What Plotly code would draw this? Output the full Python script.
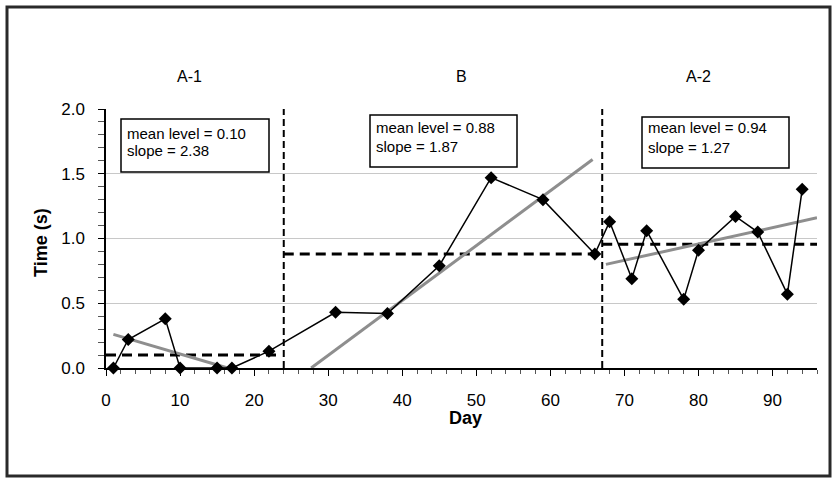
import plotly.graph_objects as go

# ---- data ----
days = [1, 3, 8, 10, 15, 17, 22, 31, 38, 45, 52, 59, 66, 68, 71, 73, 78, 80, 85, 88, 92, 94]
times = [0.0, 0.22, 0.38, 0.0, 0.0, 0.0, 0.13, 0.43, 0.42, 0.79, 1.47, 1.30, 0.88,
         1.13, 0.69, 1.06, 0.53, 0.91, 1.17, 1.05, 0.57, 1.38]

phase_names = ["A-1", "B", "A-2"]
phase_label_day = [11.3, 48.0, 80.0]
phase_bounds = [24, 67]
mean_levels = [0.10, 0.88, 0.955]
mean_start = [0, 24, 67]
mean_end = [23, 66.7, 96]
mean_text = ["mean level = 0.10", "mean level = 0.88", "mean level = 0.94"]
slope_text = ["slope = 2.38", "slope = 1.87", "slope = 1.27"]
trend_x0 = [1, 27.7, 67.5]
trend_x1 = [17, 65.7, 96]
trend_y0 = [0.26, 0.0, 0.80]
trend_y1 = [-0.01, 1.61, 1.16]

x_ticks = [0, 10, 20, 30, 40, 50, 60, 70, 80, 90]
y_ticks = [0.0, 0.5, 1.0, 1.5, 2.0]
y_tick_text = ["0.0", "0.5", "1.0", "1.5", "2.0"]

FONT = "Liberation Sans, Arial, sans-serif"
W, H = 832, 478
L, R, T, B = 106, 15, 109, 110
PW, PH = W - L - R, H - T - B


def px(x):
    return (x - L) / PW


def py(y):
    return (H - B - y) / PH


fig = go.Figure()

# vertical phase change lines
for b in phase_bounds:
    fig.add_trace(go.Scatter(x=[b, b], y=[0, 2], mode="lines",
                             line=dict(color="black", width=2, dash="7px,4px"),
                             hoverinfo="skip", showlegend=False, cliponaxis=False))

# mean level lines
for i in range(3):
    fig.add_trace(go.Scatter(x=[mean_start[i], mean_end[i]], y=[mean_levels[i]] * 2,
                             mode="lines", line=dict(color="black", width=3, dash="10px,6px"),
                             hoverinfo="skip", showlegend=False, cliponaxis=False))

# trend lines
for i in range(3):
    fig.add_trace(go.Scatter(x=[trend_x0[i], trend_x1[i]], y=[trend_y0[i], trend_y1[i]],
                             mode="lines", line=dict(color="#8e8e8e", width=3),
                             hoverinfo="skip", showlegend=False, cliponaxis=False))

# data
fig.add_trace(go.Scatter(x=days, y=times, mode="lines+markers",
                         line=dict(color="black", width=1.5),
                         marker=dict(symbol="diamond", size=10, color="black"),
                         showlegend=False, cliponaxis=False))

# boxes
boxes = [(121, 119, 269, 172), (370, 115, 517, 167), (642, 117, 789, 168)]
text_pos = [(125, 133, 150), (374, 128, 146), (646, 128, 147)]
for i, (x0, y0, x1, y1) in enumerate(boxes):
    fig.add_shape(type="rect", xref="paper", yref="paper",
                  x0=px(x0), x1=px(x1), y0=py(y1), y1=py(y0),
                  line=dict(color="black", width=1.5), fillcolor="white", layer="above")
    tx, ty1, ty2 = text_pos[i]
    fig.add_annotation(xref="paper", yref="paper", x=px(tx), y=py(ty1), text=mean_text[i],
                       showarrow=False, xanchor="left", yanchor="middle",
                       font=dict(family=FONT, size=15, color="black"))
    fig.add_annotation(xref="paper", yref="paper", x=px(tx), y=py(ty2), text=slope_text[i],
                       showarrow=False, xanchor="left", yanchor="middle",
                       font=dict(family=FONT, size=15, color="black"))

# phase labels
for name, d in zip(phase_names, phase_label_day):
    fig.add_annotation(xref="x", yref="paper", x=d, y=py(76), text=name, showarrow=False,
                       xanchor="center", yanchor="middle",
                       font=dict(family=FONT, size=16, color="black"))

# axis titles
fig.add_annotation(xref="paper", yref="paper", x=px(465), y=py(418), text="<b>Day</b>",
                   showarrow=False, xanchor="center", yanchor="middle",
                   font=dict(family=FONT, size=18, color="black"))
fig.add_annotation(xref="paper", yref="paper", x=px(41), y=py(243), text="<b>Time (s)</b>",
                   showarrow=False, textangle=-90, xanchor="center", yanchor="middle",
                   font=dict(family=FONT, size=18, color="black"))

# outer frame
fig.add_shape(type="rect", xref="paper", yref="paper",
              x0=px(7), x1=px(830), y0=py(476), y1=py(7),
              line=dict(color="#2a2a2a", width=3), fillcolor="rgba(0,0,0,0)", layer="above")

fig.update_layout(
    width=W, height=H,
    margin=dict(l=L, r=R, t=T, b=B),
    paper_bgcolor="white", plot_bgcolor="white",
    font=dict(family=FONT, size=17, color="black"),
    showlegend=False,
    xaxis=dict(range=[0, 96], tickvals=x_ticks, showgrid=False, zeroline=False,
               showline=True, linecolor="black", linewidth=1.5,
               ticks="outside", ticklen=6, tickcolor="black", tickwidth=1,
               ticklabelstandoff=10,
               minor=dict(dtick=2, tick0=0, ticks="outside", ticklen=4, tickcolor="#555", showgrid=False),
               tickfont=dict(family=FONT, size=17)),
    yaxis=dict(range=[0, 2], tickvals=y_ticks, ticktext=y_tick_text, showgrid=True,
               gridcolor="#c8c8c8", gridwidth=1, zeroline=False,
               showline=True, linecolor="black", linewidth=1.5,
               ticks="outside", ticklen=6, tickcolor="black", tickwidth=1,
               ticklabelstandoff=10,
               minor=dict(dtick=0.1, tick0=0, ticks="outside", ticklen=6, tickcolor="#555", showgrid=False),
               tickfont=dict(family=FONT, size=17)),
)

fig.write_html("out.html")
